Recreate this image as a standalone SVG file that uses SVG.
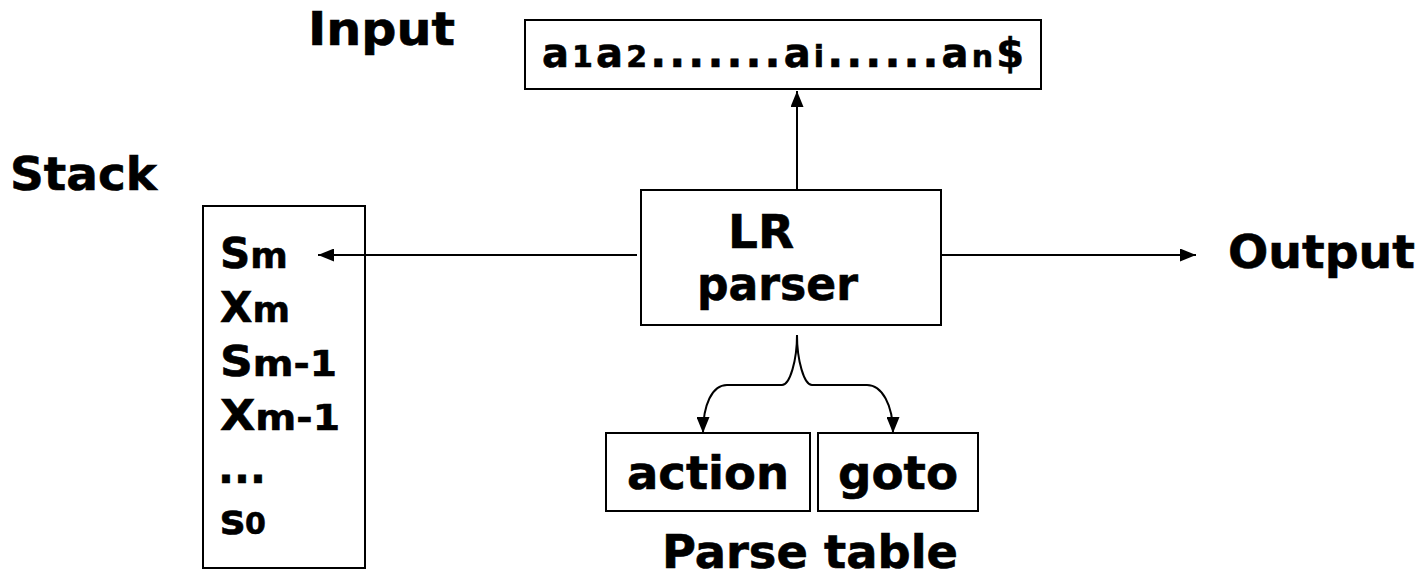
<svg xmlns="http://www.w3.org/2000/svg" width="1422" height="580" viewBox="0 0 1422 580">
<style>
text{font-family:"DejaVu Sans","Verdana",sans-serif;font-weight:bold;fill:#000;stroke:#000;stroke-width:0.6}
.lbl{font-size:46px}
.big{font-size:42px}
.sub{font-size:36px}
.in{font-size:40px}
.ins{font-size:30px}
.dot{font-size:42px}
.box{fill:#fff;stroke:#000;stroke-width:2}
.ln{fill:none;stroke:#000;stroke-width:2}
</style>
<defs>
<marker id="ah" viewBox="0 0 16 13" refX="16" refY="6.5" markerWidth="16" markerHeight="13" markerUnits="userSpaceOnUse" orient="auto"><path d="M0,0 L16,6.5 L0,13 z" fill="#000"/></marker>
</defs>
<rect width="1422" height="580" fill="#fff"/>
<text class="lbl" x="308" y="45" textLength="147" lengthAdjust="spacingAndGlyphs">Input</text>
<text class="lbl" x="10" y="190" textLength="147" lengthAdjust="spacingAndGlyphs">Stack</text>
<text class="lbl" x="1228" y="268" textLength="187" lengthAdjust="spacingAndGlyphs">Output</text>
<text class="lbl" x="662" y="568" textLength="296" lengthAdjust="spacingAndGlyphs">Parse table</text>
<g id="input">
<rect class="box" x="525" y="20" width="516" height="69"/>
<text x="542" y="67" textLength="482" lengthAdjust="spacing"><tspan class="in">a</tspan><tspan class="ins">1</tspan><tspan class="in">a</tspan><tspan class="ins">2</tspan><tspan class="dot">.......</tspan><tspan class="in">a</tspan><tspan class="ins">i</tspan><tspan class="dot">......</tspan><tspan class="in">a</tspan><tspan class="ins">n</tspan><tspan class="in">$</tspan></text>
</g>
<g id="stack">
<rect class="box" x="203" y="206" width="162" height="362"/>
<text x="220" y="268"><tspan class="big">S</tspan><tspan class="sub">m</tspan></text>
<text x="220" y="322"><tspan class="big">X</tspan><tspan class="sub">m</tspan></text>
<text x="220" y="376" textLength="117" lengthAdjust="spacingAndGlyphs"><tspan class="big">S</tspan><tspan class="sub">m-1</tspan></text>
<text x="220" y="430" textLength="120" lengthAdjust="spacingAndGlyphs"><tspan class="big">X</tspan><tspan class="sub">m-1</tspan></text>
<text class="dot" x="218" y="483">...</text>
<text x="220" y="534"><tspan class="big">s</tspan><tspan class="ins">0</tspan></text>
</g>
<g id="parser">
<rect class="box" x="641" y="190" width="300" height="135"/>
<text class="lbl" x="728" y="248" textLength="66" lengthAdjust="spacingAndGlyphs">LR</text>
<text class="lbl" x="697" y="300" textLength="161" lengthAdjust="spacingAndGlyphs">parser</text>
</g>
<g id="action">
<rect class="box" x="606" y="433" width="204" height="78"/>
<text class="lbl" x="627" y="489" textLength="162" lengthAdjust="spacingAndGlyphs">action</text>
</g>
<g id="goto">
<rect class="box" x="818" y="433" width="160" height="78"/>
<text class="lbl" x="838" y="489" textLength="120" lengthAdjust="spacingAndGlyphs">goto</text>
</g>
<g id="connectors">
<line class="ln" x1="797" y1="190" x2="797" y2="91" marker-end="url(#ah)"/>
<line class="ln" x1="637" y1="255" x2="318" y2="255" marker-end="url(#ah)"/>
<line class="ln" x1="941" y1="255" x2="1196" y2="255" marker-end="url(#ah)"/>
<path class="ln" d="M797,335 C797,360 790,385 782,385 L727,385 C712,385 703,405 703,433" marker-end="url(#ah)"/>
<path class="ln" d="M797,335 C797,360 804,385 812,385 L867,385 C882,385 893,405 893,433" marker-end="url(#ah)"/>
</g>
</svg>
